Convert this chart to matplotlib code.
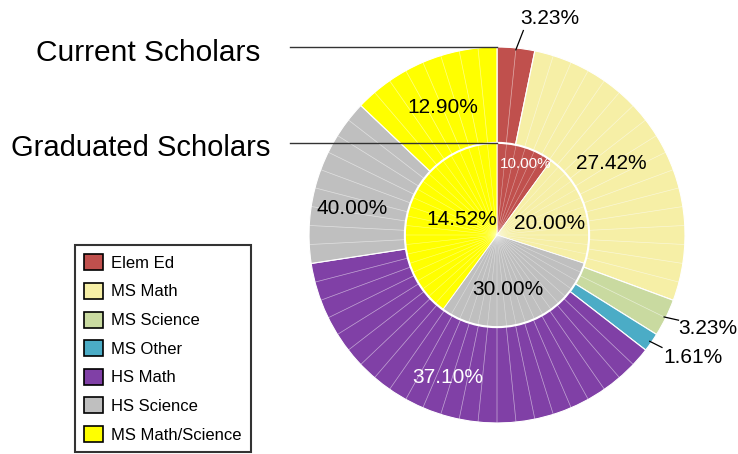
import numpy as np
import matplotlib
matplotlib.use("Agg")
import matplotlib.pyplot as plt
from matplotlib.patches import Patch

plt.rcParams['font.family'] = ['Liberation Sans', 'DejaVu Sans']

categories = ["Elem Ed", "MS Math", "MS Science", "MS Other", "HS Math", "HS Science", "MS Math/Science"]
colors = ["#C0504D", "#F6EFA6", "#C9DAA0", "#4BACC6", "#8040A6", "#BFBFBF", "#FFFF00"]

# number of scholars in each field
current = [2, 17, 2, 1, 23, 9, 8]
graduated = [1, 2, 0, 0, 0, 3, 4]

# label text positions (axes data units, pie radius = 1)
outer_label_pos = [(0.28, 1.15), (0.61, 0.38), (1.12, -0.50), (1.04, -0.65),
                   (-0.26, -0.76), (-0.19, 0.08), (-0.29, 0.68)]
inner_label_pos = [(0.15, 0.38), (0.28, 0.06), None, None, None, (0.06, -0.29), (-0.77, 0.14)]

r_in = 0.49

fig = plt.figure(figsize=(7.38, 4.54), dpi=100)
ax = fig.add_axes([309 / 738, 31 / 454, 376 / 738, 376 / 454])

cur = np.array(current, dtype=float)
grad = np.array(graduated, dtype=float)
cur_pct = cur / cur.sum() * 100
grad_pct = grad / grad.sum() * 100

# outer ring (current)
ax.pie(cur, colors=colors, radius=1, startangle=90, counterclock=False,
       wedgeprops=dict(edgecolor="white", linewidth=0.8))
# faint per-scholar lines
sub_cur = np.repeat(1.0, int(cur.sum()))
ax.pie(sub_cur, colors=["none"] * len(sub_cur), radius=1, startangle=90, counterclock=False,
       wedgeprops=dict(edgecolor=(1, 1, 1, 0.3), linewidth=0.5))

# inner pie (graduated)
mask = grad > 0
gcols = [c for c, m in zip(colors, mask) if m]
ax.pie(grad[mask], colors=gcols, radius=r_in, startangle=90, counterclock=False,
       wedgeprops=dict(edgecolor="white", linewidth=0.6))
sub_grad = np.repeat(1.0, int(grad.sum()) * 6)
ax.pie(sub_grad, colors=["none"] * len(sub_grad), radius=r_in, startangle=90, counterclock=False,
       wedgeprops=dict(edgecolor=(1, 1, 1, 0.25), linewidth=0.4))
circ = plt.Circle((0, 0), r_in, fill=False, edgecolor="white", linewidth=1.5)
ax.add_patch(circ)

# labels
big = 15
cum = np.cumsum(cur_pct) - cur_pct / 2
for i, p in enumerate(cur_pct):
    x, y = outer_label_pos[i]
    col = "white" if categories[i] == "HS Math" else "black"
    ax.text(x, y, "%.2f%%" % p, ha="center", va="center", fontsize=big, color=col)
    if categories[i] in ("Elem Ed", "MS Science", "MS Other"):
        ang = np.deg2rad(90 - cum[i] * 3.6)
        ax.plot([0.99 * np.cos(ang), 1.09 * np.cos(ang) + 0.03 * np.sin(ang)],
                [0.99 * np.sin(ang), 1.09 * np.sin(ang) + 0.03 * np.cos(ang)],
                color="black", linewidth=0.9, clip_on=False)

for i, p in enumerate(grad_pct):
    if inner_label_pos[i] is None:
        continue
    x, y = inner_label_pos[i]
    if categories[i] == "Elem Ed":
        ax.text(x, y, "%.2f%%" % p, ha="center", va="center", fontsize=11, color="white")
    else:
        ax.text(x, y, "%.2f%%" % p, ha="center", va="center", fontsize=big, color="black")

# series names with pointer lines
ax.plot([-1.10, 0], [1.0, 1.0], color="#333333", linewidth=1.0, clip_on=False)
ax.plot([-1.10, 0], [r_in, r_in], color="#333333", linewidth=1.0, clip_on=False)
fig.text(148 / 738, 1 - 53 / 454, "Current Scholars", ha="center", va="center", fontsize=21.5)
fig.text(141 / 738, 1 - 148 / 454, "Graduated Scholars", ha="center", va="center", fontsize=21)

ax.set_xlim(-1, 1)
ax.set_ylim(-1, 1)
ax.set_aspect("equal")
ax.axis("off")

handles = [Patch(facecolor=c, edgecolor="black", linewidth=1.2) for c in colors]
leg = fig.legend(handles, categories, loc="upper left", bbox_to_anchor=(75 / 738, 1 - 245 / 454),
                 fontsize=12, frameon=True, fancybox=False, edgecolor="black",
                 handlelength=1.1, handleheight=1.1, labelspacing=0.72, handletextpad=0.5,
                 borderpad=0.55, borderaxespad=0)
leg.get_frame().set_linewidth(1.5)

fig.savefig("out.png", dpi=100)
